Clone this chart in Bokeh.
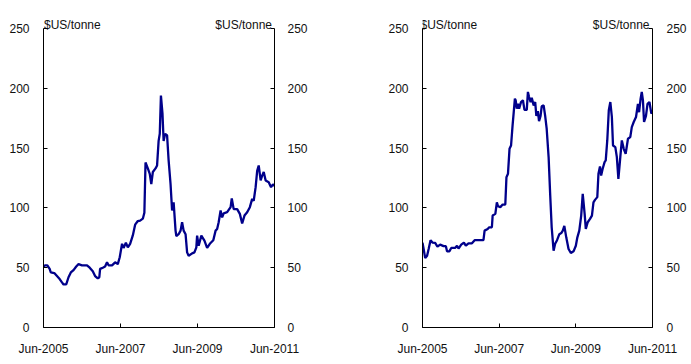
from bokeh.plotting import figure
from bokeh.models import Range1d, LinearAxis, FixedTicker
from bokeh.core.properties import value
from bokeh.layouts import row
from bokeh.embed import file_html
from bokeh.resources import INLINE

# ---- data ----
x_ticks = [2005.42, 2007.42, 2009.42, 2011.42]
x_tick_labels = ["Jun-2005", "Jun-2007", "Jun-2009", "Jun-2011"]
y_ticks = [0, 50, 100, 150, 200, 250]
unit_label = "$US/tonne"

left_years = [
    2005.42, 2005.46, 2005.52, 2005.58, 2005.61, 2005.70, 2005.77, 2005.84, 2005.90, 2005.94,
    2006.01, 2006.07, 2006.13, 2006.20, 2006.27, 2006.33, 2006.42, 2006.48, 2006.55, 2006.62,
    2006.70, 2006.76, 2006.83, 2006.87, 2006.89, 2006.96, 2007.02, 2007.07, 2007.11, 2007.20,
    2007.28, 2007.35, 2007.40, 2007.46, 2007.50, 2007.56, 2007.61, 2007.67, 2007.74, 2007.80,
    2007.87, 2007.93, 2008.00, 2008.04, 2008.07, 2008.13, 2008.18, 2008.22, 2008.26, 2008.33,
    2008.37, 2008.41, 2008.44, 2008.47, 2008.51, 2008.54, 2008.58, 2008.63, 2008.67, 2008.72,
    2008.76, 2008.80, 2008.85, 2008.87, 2008.93, 2008.98, 2009.02, 2009.06, 2009.11, 2009.15,
    2009.19, 2009.28, 2009.34, 2009.39, 2009.41, 2009.45, 2009.52, 2009.60, 2009.67, 2009.74,
    2009.83, 2009.89, 2009.93, 2009.97, 2010.02, 2010.06, 2010.10, 2010.19, 2010.28, 2010.31,
    2010.36, 2010.45, 2010.52, 2010.58, 2010.64, 2010.71, 2010.78, 2010.84, 2010.88, 2010.93,
    2010.97, 2011.01, 2011.06, 2011.10, 2011.14, 2011.19, 2011.27, 2011.33, 2011.38, 2011.42,
]
left_values = [
    51, 52, 52, 49, 46, 45.5, 43, 40.5, 37.7, 36,
    36, 42, 46, 48, 51, 53, 52, 52, 52, 50,
    47, 43, 41, 42, 49, 50, 51, 54.5, 52, 52,
    54.5, 53, 58.7, 70, 66.5, 71, 67, 70, 77, 86,
    89, 89.4, 91, 96, 138, 133, 128.5, 120, 130, 133,
    135.5, 156, 162, 194, 179, 156, 162, 160.6, 139.7, 120,
    97.8, 104.7, 81, 76.5, 78, 81, 88, 81, 78, 62.8,
    60, 62, 62.8, 67, 76.8, 68.4, 76.8, 72.6, 66.5, 70,
    73, 81, 82.4, 88, 97.8, 92, 95.5, 96.4, 100.6, 108,
    99, 99, 95, 87, 93.6, 96.4, 100.6, 107.5, 106, 117.3,
    131, 135.5, 123, 127, 130, 123, 121.5, 117.3, 119.6, 118.7,
]

right_years = [
    2005.42, 2005.45, 2005.49, 2005.54, 2005.58, 2005.63, 2005.68, 2005.75, 2005.81, 2005.88,
    2005.97, 2006.03, 2006.06, 2006.12, 2006.17, 2006.27, 2006.32, 2006.36, 2006.43, 2006.50,
    2006.55, 2006.62, 2006.71, 2006.78, 2006.86, 2006.97, 2007.01, 2007.04, 2007.12, 2007.16,
    2007.23, 2007.25, 2007.32, 2007.36, 2007.39, 2007.45, 2007.51, 2007.58, 2007.61, 2007.65,
    2007.69, 2007.73, 2007.77, 2007.80, 2007.83, 2007.85, 2007.88, 2007.91, 2007.94, 2007.99,
    2008.04, 2008.08, 2008.14, 2008.17, 2008.20, 2008.24, 2008.27, 2008.32, 2008.36, 2008.39,
    2008.43, 2008.46, 2008.50, 2008.53, 2008.58, 2008.62, 2008.66, 2008.71, 2008.75, 2008.79,
    2008.84, 2008.88, 2008.93, 2008.99, 2009.04, 2009.08, 2009.12, 2009.17, 2009.23, 2009.29,
    2009.36, 2009.42, 2009.46, 2009.51, 2009.56, 2009.60, 2009.65, 2009.68, 2009.73, 2009.79,
    2009.84, 2009.88, 2009.92, 2009.98, 2010.01, 2010.05, 2010.08, 2010.12, 2010.17, 2010.20,
    2010.24, 2010.28, 2010.32, 2010.36, 2010.39, 2010.45, 2010.49, 2010.53, 2010.58, 2010.62,
    2010.67, 2010.72, 2010.78, 2010.84, 2010.88, 2010.93, 2010.99, 2011.04, 2011.07, 2011.11,
    2011.14, 2011.17, 2011.20, 2011.25, 2011.29, 2011.34, 2011.39, 2011.42,
]
right_values = [
    71, 65.6, 58, 60, 65.6, 73, 71, 70.7, 67.6, 69.3,
    68, 68, 63.7, 63.7, 66.5, 66.5, 68.4, 66, 69.3, 71,
    68.4, 70.4, 70.4, 73, 73, 73, 73, 81, 82.4, 83.8,
    83.8, 93.6, 95, 104.7, 101.4, 100.6, 102.8, 102.8, 125.7, 128.5,
    149.4, 152.2, 169, 180, 191.3, 190, 183, 187, 183, 188.5,
    190, 182, 182, 197, 192.7, 188.5, 192, 185.7, 188.5, 177,
    181, 172.6, 177, 184.9, 185.7, 177, 166, 142.5, 111.7, 83.8,
    64.2, 70, 73, 78, 79, 81, 85, 75.4, 65.6, 62.3,
    63.7, 68.4, 75.4, 81, 93.6, 111.7, 95, 82.4, 88, 90.8,
    93.6, 104.7, 106.7, 109, 128.5, 134.6, 127, 132.7, 138.3, 139.7,
    156.4, 181.6, 188.5, 176, 152.2, 150.8, 142.5, 124.3, 142.5, 156.4,
    149.4, 145.2, 157.8, 159.2, 167.6, 171.8, 176, 187, 180, 191.3,
    197, 190, 171.8, 177, 187, 188.5, 178.8, 180,
]

LINE_COLOR = "#00008B"
FONT = "Liberation Sans"
TEXT_COLOR = "#111111"

FRAME_TOP = 14      # frame extends above the 250 tick to hold the unit labels
FRAME_H = 313
AXIS_H = 299        # pixel height of the 0..250 axis
Y_END = y_ticks[-1] * FRAME_H / AXIS_H


def style_axis(ax, standoff):
    ax.axis_line_color = "black"
    ax.axis_line_width = 1
    ax.major_tick_line_color = "black"
    ax.major_tick_in = 4
    ax.major_tick_out = 0
    ax.minor_tick_line_color = None
    ax.major_label_text_font = FONT
    ax.major_label_text_font_size = "12px"
    ax.major_label_text_color = TEXT_COLOR
    ax.major_label_standoff = standoff


def make_panel(xs, ys, width, b_left, b_right, right_standoff, lab_off_left, lab_off_right):
    p = figure(width=width, height=360, output_backend="svg", toolbar_location=None,
               x_range=Range1d(x_ticks[0], x_ticks[-1]), y_range=Range1d(y_ticks[0], Y_END),
               min_border_left=b_left, min_border_right=b_right,
               min_border_top=FRAME_TOP, min_border_bottom=360 - FRAME_TOP - FRAME_H)
    p.outline_line_color = None
    p.xgrid.grid_line_color = None
    p.ygrid.grid_line_color = None
    p.background_fill_color = "white"
    p.border_fill_color = "white"

    p.line(xs, ys, line_color=LINE_COLOR, line_width=2.3)

    xa = p.xaxis[0]
    xa.ticker = FixedTicker(ticks=x_ticks)
    xa.major_label_overrides = {t: l for t, l in zip(x_ticks, x_tick_labels)}
    style_axis(xa, 14)

    ya = p.yaxis[0]
    ya.ticker = FixedTicker(ticks=y_ticks)
    ya.bounds = (y_ticks[0], y_ticks[-1])
    style_axis(ya, 14)

    ra = LinearAxis(ticker=FixedTicker(ticks=y_ticks), bounds=(y_ticks[0], y_ticks[-1]))
    style_axis(ra, right_standoff)
    p.add_layout(ra, "right")

    p.text(x=[x_ticks[0]], y=[y_ticks[-1]], text=[unit_label], x_offset=lab_off_left, y_offset=-3.3,
           text_font=value(FONT), text_font_size="12px", text_color=TEXT_COLOR,
           text_align="left", text_baseline="alphabetic")
    p.text(x=[x_ticks[-1]], y=[y_ticks[-1]], text=[unit_label], x_offset=lab_off_right, y_offset=-3.3,
           text_font=value(FONT), text_font_size="12px", text_color=TEXT_COLOR,
           text_align="right", text_baseline="alphabetic")
    return p


p1 = make_panel(left_years, left_values, 345, 43, 71, 13, 0.5, -2.5)
p2 = make_panel(right_years, right_values, 344, 77, 37, 14, -2, -3)

layout = row(p1, p2)
open("out.html", "w").write(file_html(layout, INLINE))
